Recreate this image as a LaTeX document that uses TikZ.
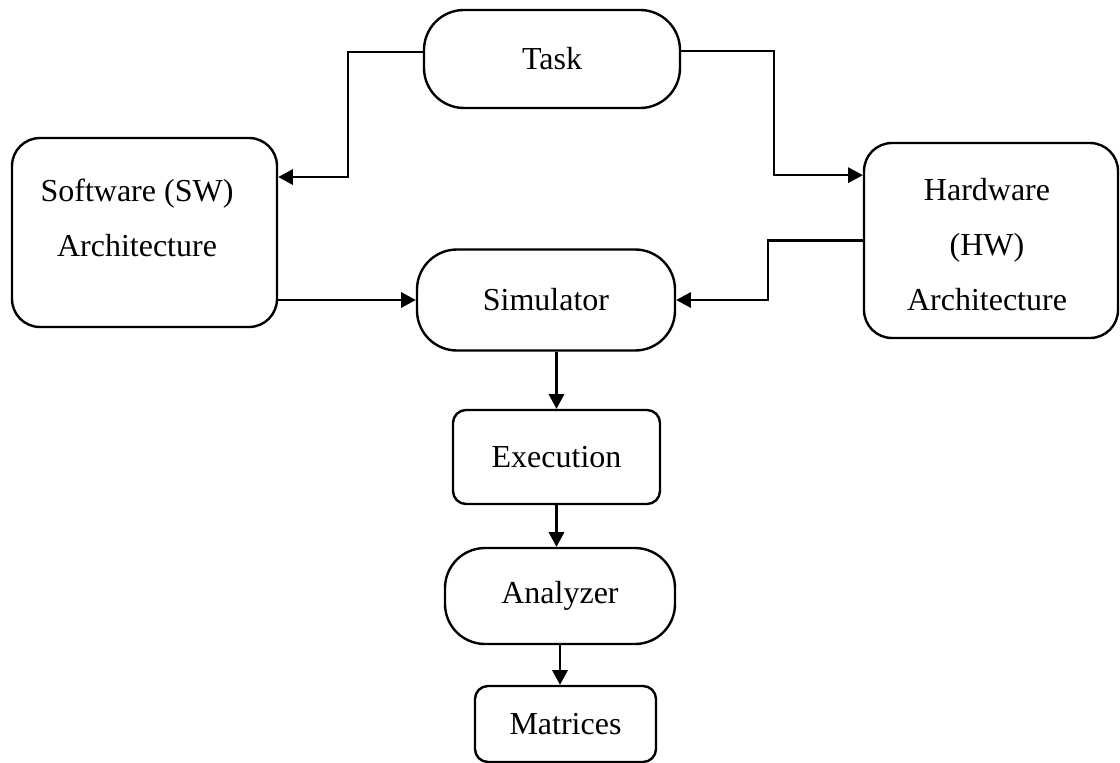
\documentclass[tikz,border=0pt]{standalone}
\usepackage{fontspec}
\setmainfont{Liberation Serif}
\usetikzlibrary{arrows.meta}
\begin{document}
\begin{tikzpicture}[x=0.75pt,y=-0.75pt,
  box/.style={draw=black, line width=1.8pt, inner sep=0pt,
    font=\fontsize{24}{28}\selectfont, align=center},
  pill/.style={box, rounded corners=30pt},
  bigbox/.style={box, rounded corners=21pt},
  smallbox/.style={box, rounded corners=9.75pt},
  txt/.style={font=\fontsize{24}{41.25}\selectfont, align=center, inner sep=0pt},
  arr/.style={line width=1.6pt, -{Triangle[length=11pt,width=11.5pt]}}
]
\useasboundingbox (0,0) rectangle (1120,763);

% blocks
\node[pill, minimum width=192pt, minimum height=73.5pt] (task) at (552,59) {Task};
\node[bigbox, minimum width=198.75pt, minimum height=141.75pt] (sw) at (144.5,232.5) {};
\node[bigbox, minimum width=190.5pt, minimum height=146.25pt] (hw) at (991,240.5) {};
\node[pill, minimum width=193.5pt, minimum height=75.75pt] (sim) at (546,300) {Simulator};
\node[smallbox, minimum width=155.25pt, minimum height=70.5pt] (exec) at (556.5,457) {Execution};
\node[pill, minimum width=172.5pt, minimum height=72pt] (ana) at (560,596) {Analyzer};
\node[smallbox, minimum width=135.75pt, minimum height=57pt] (mat) at (565.5,724) {Matrices};

% captions of the two architecture blocks (base = last line)
\node[txt, anchor=base] (swtext) at (137,256) {Software (SW)\\Architecture};
\node[txt, anchor=base] (hwtext) at (987,310) {Hardware\\(HW)\\Architecture};

% connectors
\draw[arr] ([yshift=5.25pt]task.west) -- ++(-75,0) |- ([yshift=41.6pt]sw.east);
\draw[arr] ([yshift=6pt]task.east) -- ++(93,0) |- ([yshift=49pt]hw.west);
\draw[arr] (sw.east |- sim.west) -- (sim.west);
\draw[arr] (hw.west) -- ++(-95,0) |- (sim.east);
\draw[arr] (exec.north |- sim.south) -- (exec.north);
\draw[arr] (exec.south) -- (exec.south |- ana.north);
\draw[arr] (ana.south) -- (ana.south |- mat.north);
\end{tikzpicture}
\end{document}
